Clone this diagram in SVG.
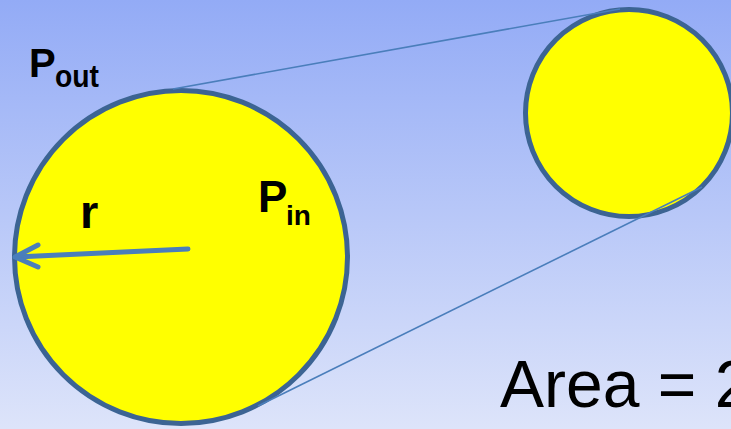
<svg xmlns="http://www.w3.org/2000/svg" width="731" height="429" viewBox="0 0 731 429">
<defs>
<linearGradient id="bg" x1="0" y1="0" x2="0" y2="1">
<stop offset="0" stop-color="#93abf6"/>
<stop offset="1" stop-color="#dde4fa"/>
</linearGradient>
<style>
.circ{fill:#ffff00;stroke:#3c6493;stroke-width:5}
.conn{stroke:#4a7ebb;stroke-width:1.6;fill:none}
.lbl{font-family:"Liberation Sans",Arial,sans-serif;font-weight:bold;fill:#000}
</style>
</defs>
<rect width="731" height="429" fill="url(#bg)"/>
<g id="big-circle"><circle class="circ" cx="181" cy="257" r="166.5"/></g>
<g id="small-circle"><circle class="circ" cx="629" cy="113" r="103.5"/></g>
<g id="connectors">
<line class="conn" x1="173" y1="89" x2="620" y2="9"/>
<line class="conn" x1="258" y1="406" x2="702" y2="187"/>
</g>
<g id="radius-arrow" stroke="#4a7ebb" stroke-width="5" stroke-linecap="round" stroke-linejoin="round" fill="none">
<line x1="188" y1="249" x2="16" y2="257"/>
<polyline points="38,245 15,257 38,267"/>
</g>
<g id="labels">
<text class="lbl" x="29" y="77" font-size="40">P</text>
<text class="lbl" x="55" y="87" font-size="31" textLength="44" lengthAdjust="spacingAndGlyphs">out</text>
<text class="lbl" x="80" y="228" font-size="47">r</text>
<text class="lbl" x="258" y="212" font-size="44">P</text>
<text class="lbl" x="286" y="225" font-size="28">in</text>
<text x="500" y="407" font-family="'Liberation Sans',Arial,sans-serif" font-size="66" fill="#000">Area = 2</text>
</g>
</svg>
